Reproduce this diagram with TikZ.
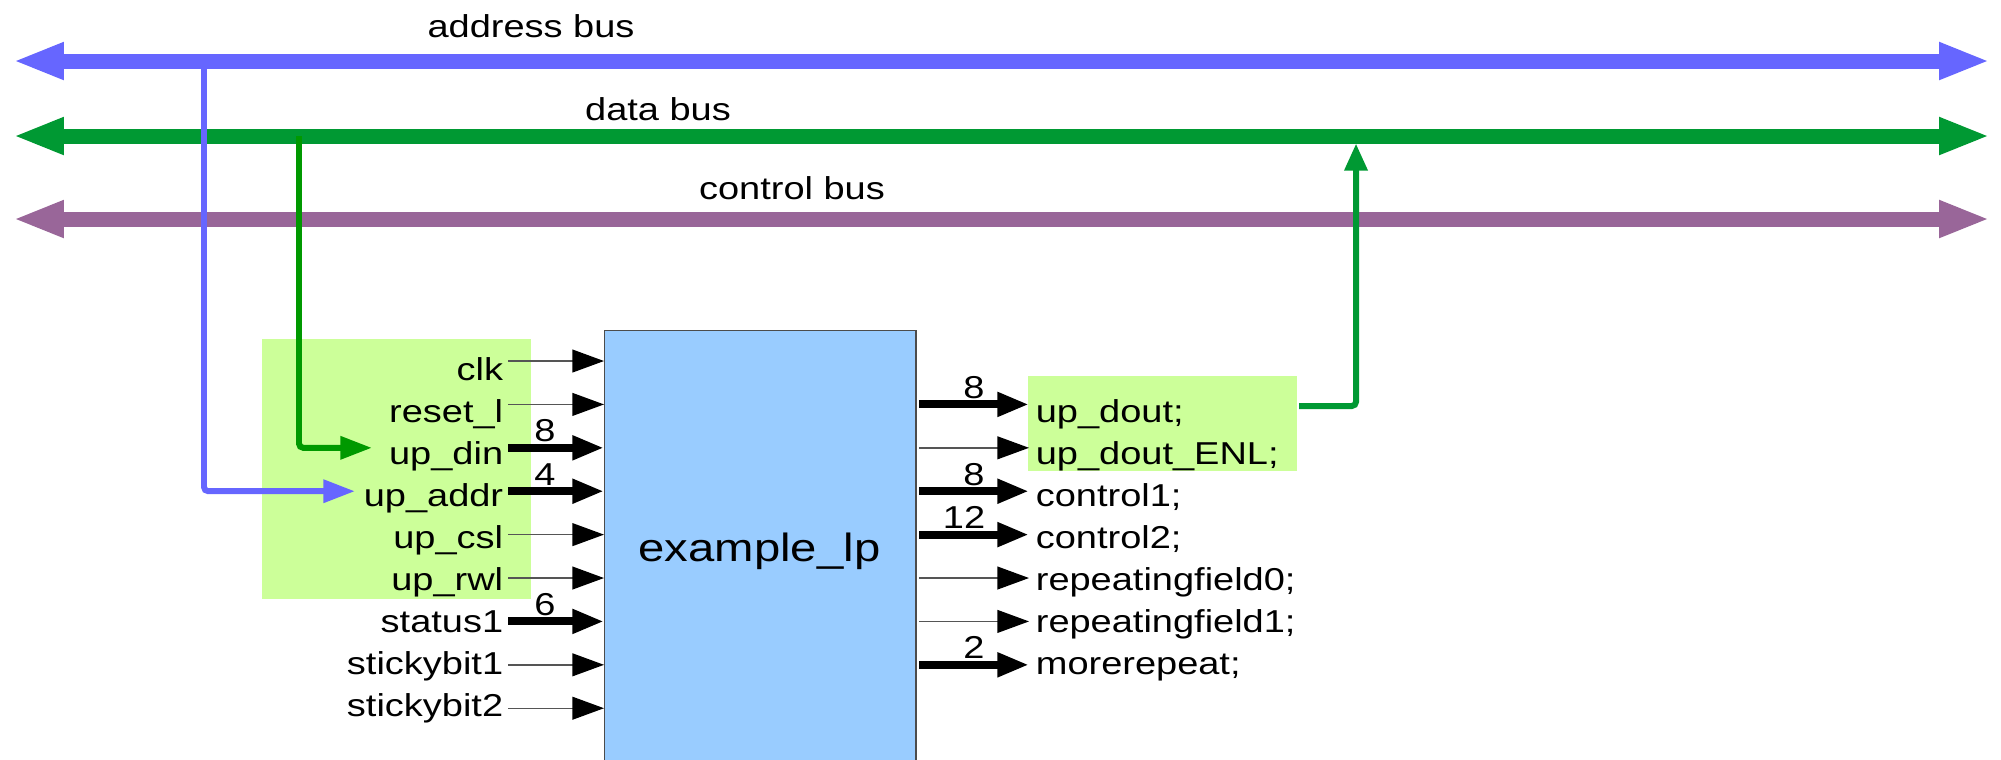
\documentclass[tikz,border=0pt]{standalone}
\usepackage{fontspec}
\setmainfont{Liberation Sans}
\usetikzlibrary{arrows.meta}

\definecolor{addrblue}{HTML}{6666FF}
\definecolor{datagreen}{HTML}{009933}
\definecolor{dingreen}{HTML}{009900}
\definecolor{ctrlpurple}{HTML}{996699}
\definecolor{portgreen}{HTML}{CCFF99}
\definecolor{coreblue}{HTML}{99CCFF}
\definecolor{wiregray}{HTML}{555555}

\newcommand\sigfont{\fontsize{9pt}{10pt}\selectfont}
\newcommand\corefont{\fontsize{11.2pt}{13pt}\selectfont}

\begin{document}
\begin{tikzpicture}[x=0.01cm, y=-0.01cm,
  bus/.style={line width=4.27pt,
    {Triangle[length=14.5pt,width=9.7pt]}-{Triangle[length=14.5pt,width=9.7pt]}},
  branch/.style={line width=1.7pt, rounded corners=1.2pt,
    -{Triangle[length=9pt,width=6.3pt]}},
  thinsig/.style={draw=wiregray, line width=0.4pt,
    -{Triangle[length=9pt,width=6.5pt,color=black]}},
  thicksig/.style={draw=black, line width=2.28pt,
    -{Triangle[length=9pt,width=6.5pt]}},
  sig/.style={font=\sigfont, inner sep=0pt, xscale=1.2},
  portbox/.style={fill=portgreen, draw=none, inner sep=0pt, anchor=north west},
  corebox/.style={fill=coreblue, draw=black!70, line width=0.4pt, inner sep=0pt, anchor=north west}
]
\useasboundingbox (0,0) rectangle (2001,759);
\clip (0,0) rectangle (2001,759);

% port groups and the core block
\node[portbox, minimum width=2.69cm, minimum height=2.60cm] (inports) at (261,338) {};
\node[portbox, minimum width=2.69cm, minimum height=0.95cm] (outports) at (1027,375) {};
\node[corebox, minimum width=3.11cm, minimum height=5.00cm] (core) at (604,330) {};
\node[font=\corefont, inner sep=0pt, xscale=1.2, anchor=base] (corename) at (759.5,561) {example\_lp};

% system buses
\coordinate (abL) at (13,61);   \coordinate (abR) at (1990,61);
\coordinate (dbL) at (13,136);  \coordinate (dbR) at (1990,136);
\coordinate (cbL) at (13,219);  \coordinate (cbR) at (1990,219);
\draw[bus, addrblue]   (abL) -- (abR);
\draw[bus, datagreen]  (dbL) -- (dbR);
\draw[bus, ctrlpurple] (cbL) -- (cbR);
\node[sig, anchor=base] (abname) at (531,37)  {address bus};
\node[sig, anchor=base] (dbname) at (658,120) {data bus};
\node[sig, anchor=base] (cbname) at (792,199) {control bus};

% bus taps into the processor port
\coordinate (atap) at (204,61);
\coordinate (aend) at (355,491.2);
\draw[branch, addrblue] (atap) |- (aend);
\coordinate (dtap) at (299,136);
\coordinate (dend) at (372,447.8);
\draw[branch, dingreen] (dtap) |- (dend);

% read data back onto the data bus
\coordinate (rdsrc) at (1299,406);
\coordinate (rdtip) at (1356,143.5);
\draw[line width=1.7pt, datagreen, rounded corners=1.2pt,
  -{Triangle[length=7.7pt,width=6.3pt]}] (rdsrc) -| (rdtip);

% inputs
\foreach \i/\name/\kind in {0/clk/thinsig, 1/reset\_l/thinsig, 2/up\_din/thicksig,
    3/up\_addr/thicksig, 4/up\_csl/thinsig, 5/up\_rwl/thinsig, 6/status1/thicksig,
    7/stickybit1/thinsig, 8/stickybit2/thinsig}{
  \coordinate (src\i) at (508,{361+43.4*\i});
  \draw[\kind] (src\i) -- (src\i -| core.west);
  \node[sig, anchor=base east] (inlbl\i) at (504,{380+42*\i}) {\name};
}
\foreach \i/\w in {2/8, 3/4, 6/6}{
  \node[sig, anchor=base] (inw\i) at (545,{361+43.4*\i-6}) {\w};
}

% outputs
\foreach \i/\name/\kind in {1/up\_dout/thicksig, 2/up\_dout\_ENL/thinsig,
    3/control1/thicksig, 4/control2/thicksig, 5/repeatingfield0/thinsig,
    6/repeatingfield1/thinsig, 7/morerepeat/thicksig}{
  \coordinate (osrc\i) at (919,{361+43.4*\i});
  \coordinate (otip\i) at (1029,{361+43.4*\i});
  \draw[\kind] (osrc\i) -- (otip\i);
  \node[sig, anchor=base west] (outlbl\i) at (1035,{380+42*\i}) {\name;};
}
\foreach \i/\w/\x in {1/8/974, 3/8/974, 4/12/964, 7/2/974}{
  \node[sig, anchor=base] (outw\i) at (\x,{361+43.4*\i-6}) {\w};
}
\end{tikzpicture}
\end{document}
